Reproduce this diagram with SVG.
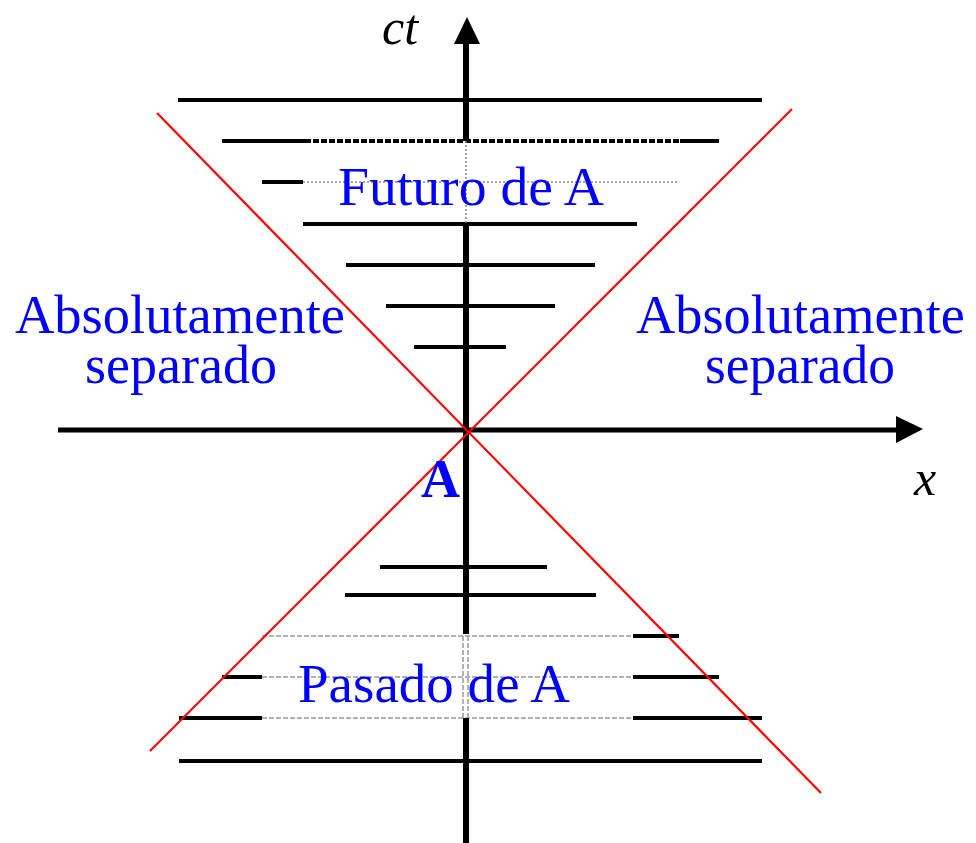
<svg xmlns="http://www.w3.org/2000/svg" width="976" height="843" viewBox="0 0 976 843">
<style>
.bar{stroke:#000;stroke-width:4;fill:none}
.dot{stroke:#888;stroke-width:1.5;stroke-dasharray:2 2;fill:none}
.dash{stroke:#999;stroke-width:1.5;stroke-dasharray:5 2;fill:none}
.red{stroke:#ff0000;stroke-width:2.2;fill:none}
.lbl{font-family:"Liberation Serif","Times New Roman",serif;font-size:54px;fill:#0000ff}
.ax{font-family:"Liberation Serif","Times New Roman",serif;font-size:50px;font-style:italic;fill:#000}
</style>
<rect width="976" height="843" fill="#fff"/>
<g id="future-lines">
<line class="bar" x1="178" y1="100" x2="762" y2="100"/>
<line class="bar" x1="222" y1="141" x2="305" y2="141"/>
<line class="bar" x1="305" y1="141" x2="680" y2="141" stroke-dasharray="6 2"/>
<line class="bar" x1="680" y1="141" x2="719" y2="141"/>
<line class="bar" x1="262" y1="182" x2="303" y2="182"/>
<line class="dot" x1="303" y1="182" x2="678" y2="182"/>
<line class="bar" x1="303" y1="224" x2="637" y2="224"/>
<line class="bar" x1="346" y1="265" x2="595" y2="265"/>
<line class="bar" x1="386" y1="306" x2="555" y2="306"/>
<line class="bar" x1="414" y1="347" x2="506" y2="347" stroke-width="3"/>
</g>
<g id="past-lines">
<line class="bar" x1="380" y1="567" x2="547" y2="567"/>
<line class="bar" x1="345" y1="595" x2="596" y2="595"/>
<line class="dash" x1="262" y1="636" x2="633" y2="636"/>
<line class="bar" x1="633" y1="636" x2="679" y2="636"/>
<line class="bar" x1="222" y1="677" x2="262" y2="677"/>
<line class="dash" x1="262" y1="677" x2="633" y2="677"/>
<line class="bar" x1="633" y1="677" x2="719" y2="677"/>
<line class="bar" x1="179" y1="718" x2="262" y2="718"/>
<line class="dash" x1="262" y1="718" x2="633" y2="718"/>
<line class="bar" x1="633" y1="718" x2="762" y2="718"/>
<line class="bar" x1="179" y1="761" x2="762" y2="761"/>
</g>
<g id="connectors">
<line x1="466" y1="40" x2="466" y2="141" stroke="#000" stroke-width="6"/>
<line class="dot" x1="466" y1="141" x2="466" y2="224"/>
<line x1="466" y1="224" x2="466" y2="634" stroke="#000" stroke-width="6"/>
<line class="dash" x1="463" y1="636" x2="463" y2="718"/>
<line class="dash" x1="468" y1="636" x2="468" y2="718"/>
<line x1="466" y1="718" x2="466" y2="843" stroke="#000" stroke-width="6"/>
<polygon points="467,17 480,44 454,44" fill="#000"/>
<line x1="58" y1="430" x2="898" y2="430" stroke="#000" stroke-width="5"/>
<polygon points="923,429 896,416 896,443" fill="#000"/>
<line class="red" x1="157" y1="113" x2="821" y2="793"/>
<line class="red" x1="792" y1="109" x2="150" y2="751"/>
</g>
<g id="labels">
<text class="ax" x="382" y="44">ct</text>
<text class="ax" x="914" y="495">x</text>
<text class="lbl" x="338" y="205" textLength="266" lengthAdjust="spacingAndGlyphs">Futuro de A</text>
<text class="lbl" x="298" y="702" textLength="272" lengthAdjust="spacingAndGlyphs">Pasado de A</text>
<text class="lbl" x="15" y="333" textLength="330" lengthAdjust="spacingAndGlyphs">Absolutamente</text>
<text class="lbl" x="85" y="383" textLength="192" lengthAdjust="spacingAndGlyphs">separado</text>
<text class="lbl" x="636" y="333" textLength="329" lengthAdjust="spacingAndGlyphs">Absolutamente</text>
<text class="lbl" x="705" y="383" textLength="190" lengthAdjust="spacingAndGlyphs">separado</text>
<text class="lbl" x="421" y="497" font-weight="bold">A</text>
</g>
</svg>
